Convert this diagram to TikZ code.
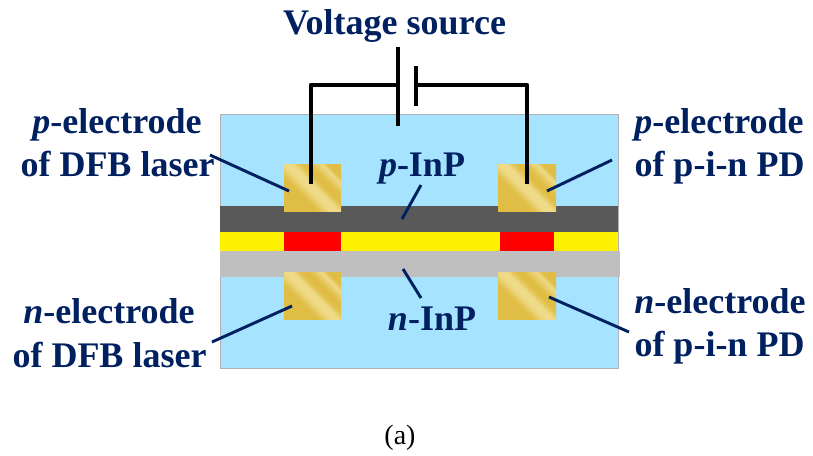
\documentclass[tikz,border=0pt]{standalone}
\usepackage{fontspec}
\setmainfont{Liberation Serif}
\definecolor{navy}{RGB}{0,32,96}
\definecolor{skyb}{RGB}{166,227,255}
\definecolor{gold1}{RGB}{224,190,70}
\definecolor{gold2}{RGB}{238,218,135}
\pgfdeclareverticalshading{goldstripe}{100bp}{
 color(0bp)=(gold1); color(38bp)=(gold1); color(46bp)=(gold2); color(52bp)=(gold2); color(58bp)=(gold1);
 color(64bp)=(gold1); color(72bp)=(gold2); color(76bp)=(gold1); color(100bp)=(gold1)}
\tikzset{
  lab/.style={font=\bfseries\fontsize{27}{30}\selectfont, text=navy, anchor=base, inner sep=0pt},
  layer/.style={draw=none, anchor=north west, inner sep=0pt, outer sep=0pt},
  goldbox/.style={shade, shading=goldstripe, shading angle=-45, anchor=north west, inner sep=0pt, outer sep=0pt, minimum height=35.25pt},
  leader/.style={draw=navy, line width=2.2pt},
  wire/.style={draw=black, line width=3.3pt, line join=round}
}
\begin{document}
\begin{tikzpicture}[x=0.75pt,y=-0.75pt]
\useasboundingbox (0,0) rectangle (813,455);
% body
\node[layer, fill=skyb, draw=black!30, line width=0.5pt, minimum width=298.5pt, minimum height=190.5pt] (body) at (220,114) {};
\node[layer, fill=black!65, minimum width=298.5pt, minimum height=20.25pt] (plyr) at (220,205.5) {};
\node[layer, fill=yellow, minimum width=298.5pt, minimum height=14.25pt] (active) at (220,232) {};
\node[layer, fill=black!25, minimum width=300pt, minimum height=19.5pt] (nlyr) at (220,251) {};
\node[layer, fill=red, minimum width=42.75pt, minimum height=14.25pt] (redl) at (284,232) {};
\node[layer, fill=red, minimum width=40.5pt, minimum height=14.25pt] (redr) at (500,232) {};
% electrodes
\node[goldbox, minimum width=42.75pt] (ptl) at (284,164) {};
\node[goldbox, minimum width=43.5pt] (ptr) at (498,164) {};
\node[goldbox, minimum width=42.75pt] (ntl) at (284,272) {};
\node[goldbox, minimum width=43.5pt] (ntr) at (498,272) {};
% voltage source
\coordinate (plA) at (398,47);
\coordinate (plB) at (398,126);
\coordinate (mnA) at (416,66);
\coordinate (mnB) at (416,106);
\coordinate (cL) at (398,85);
\coordinate (cR) at (416,85);
\coordinate (wL) at (311,184);
\coordinate (wR) at (527,184);
\draw[wire] (plA) -- (plB);
\draw[wire] (mnA) -- (mnB);
\draw[wire] (wL) -- (wL |- cL) -- (cL);
\draw[wire] (wR) -- (wR |- cR) -- (cR);
% labels
\node[lab] (vs) at (394.5,34) {Voltage source};
\node[lab] (pl1) at (117,133) {\textit{p}-electrode};
\node[lab] (pl2) at (117.5,176) {of DFB laser};
\node[lab] (pr1) at (719,133) {\textit{p}-electrode};
\node[lab] (pr2) at (719.5,176) {of p-i-n PD};
\node[lab] (nl1) at (109,323) {\textit{n}-electrode};
\node[lab] (nl2) at (109.5,367) {of DFB laser};
\node[lab] (nr1) at (720,313) {\textit{n}-electrode};
\node[lab] (nr2) at (719.5,356) {of p-i-n PD};
\node[lab] (pinp) at (422,176) {\textit{p}-InP};
\node[lab] (ninp) at (432,330) {\textit{n}-InP};
\node[font=\fontsize{21}{24}\selectfont, text=black, anchor=base, inner sep=0pt] (cap) at (400,444) {(a)};
% leaders
\coordinate (a1) at (210,155); \coordinate (a2) at (289,191);
\coordinate (b1) at (612,160); \coordinate (b2) at (547,191);
\coordinate (c1) at (421,185); \coordinate (c2) at (402,219);
\coordinate (d1) at (403,269); \coordinate (d2) at (421,298);
\coordinate (e1) at (212,342); \coordinate (e2) at (292,306);
\coordinate (f1) at (629,332); \coordinate (f2) at (549,297);
\draw[leader] (a1) -- (a2);
\draw[leader] (b1) -- (b2);
\draw[leader] (c1) -- (c2);
\draw[leader] (d1) -- (d2);
\draw[leader] (e1) -- (e2);
\draw[leader] (f1) -- (f2);
\end{tikzpicture}
\end{document}
